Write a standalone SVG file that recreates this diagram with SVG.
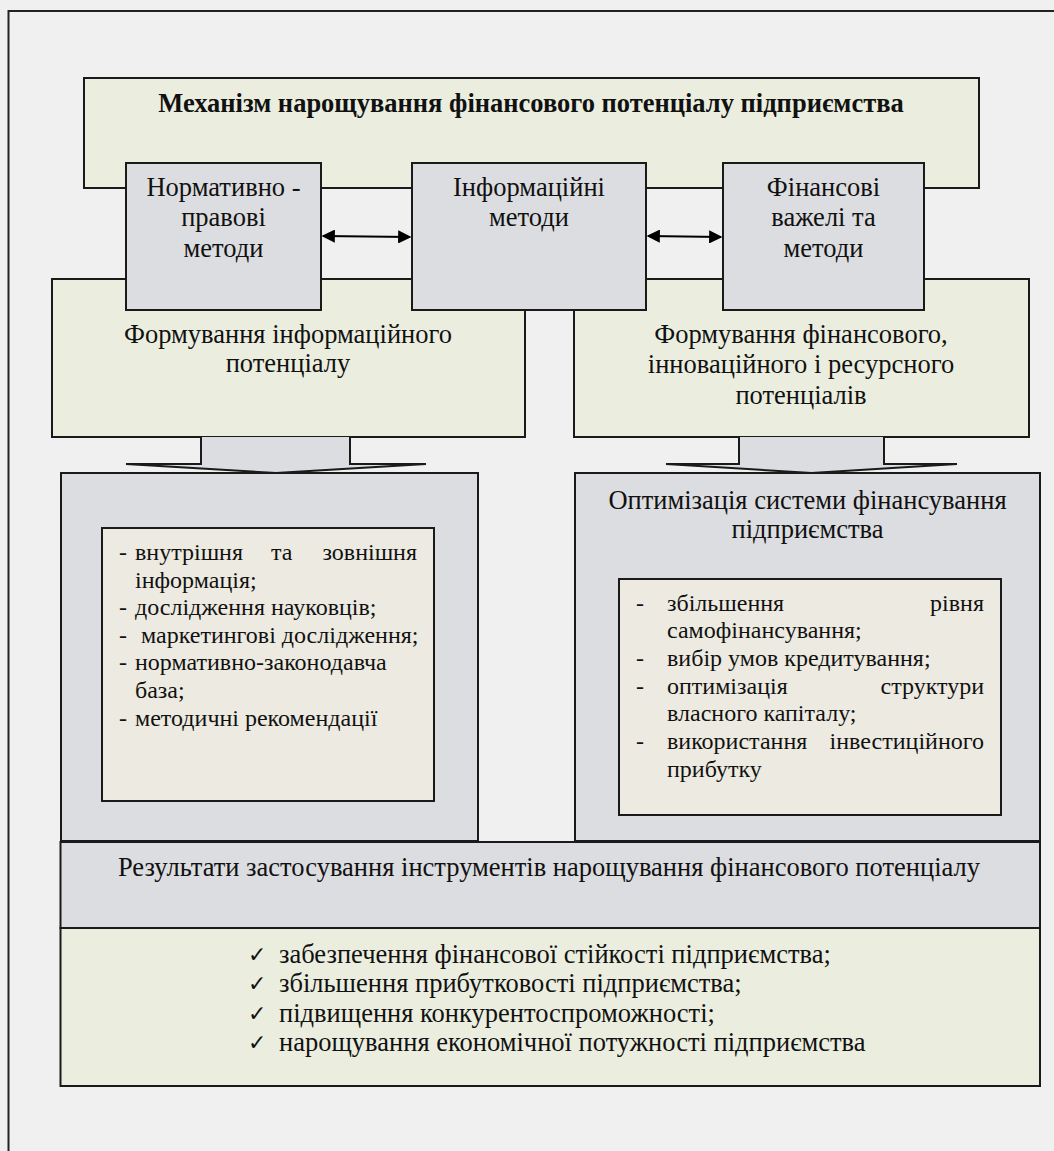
<svg xmlns="http://www.w3.org/2000/svg" width="1054" height="1151" viewBox="0 0 1054 1151">
<style>
.t{font-family:'Liberation Serif','DejaVu Serif','Times New Roman',Times,serif;font-size:26.5px;fill:#111}
.s{font-size:24px}
.c{text-anchor:middle}
.e{text-anchor:end}
.b{font-weight:bold}
.green{fill:#EBEEDF;stroke:#1a1a1a;stroke-width:2}
.gray{fill:#DCDDE0;stroke:#1a1a1a;stroke-width:2}
.beige{fill:#EDEBE1;stroke:#1a1a1a;stroke-width:2}
.chk{font-family:'DejaVu Sans',sans-serif;font-size:22px}
</style>
<defs>
<marker id="ah" viewBox="0 0 10 10" refX="9" refY="5" markerWidth="6" markerHeight="6" orient="auto-start-reverse">
<path d="M0,0 L10,5 L0,10 z" fill="#000"/>
</marker>
</defs>
<rect x="0" y="0" width="1054" height="1151" fill="#F0F0F0"/>
<rect x="8.5" y="11" width="1100" height="1200" fill="none" stroke="#222" stroke-width="2"/>

<g id="mechanism">
<rect class="green" x="84" y="78" width="895" height="110"/>
<text class="t c b" x="531" y="112">Механізм нарощування фінансового потенціалу підприємства</text>
</g>

<g id="form-info">
<rect class="green" x="52" y="279" width="473" height="158"/>
<text class="t c" x="288" y="343">Формування інформаційного</text>
<text class="t c" x="288" y="372">потенціалу</text>
</g>

<g id="form-fin">
<rect class="green" x="574" y="279" width="455" height="158"/>
<text class="t c" x="801" y="343">Формування фінансового,</text>
<text class="t c" x="801" y="373">інноваційного і ресурсного</text>
<text class="t c" x="801" y="404">потенціалів</text>
</g>

<g id="norm-methods">
<rect class="gray" x="126" y="163" width="195" height="147"/>
<text class="t c" x="223.5" y="196">Нормативно -</text>
<text class="t c" x="223.5" y="226">правові</text>
<text class="t c" x="223.5" y="257">методи</text>
</g>

<g id="info-methods">
<rect class="gray" x="412" y="163" width="234" height="147"/>
<text class="t c" x="529" y="196">Інформаційні</text>
<text class="t c" x="529" y="226">методи</text>
</g>

<g id="fin-methods">
<rect class="gray" x="723" y="163" width="201" height="147"/>
<text class="t c" x="823.5" y="196">Фінансові</text>
<text class="t c" x="823.5" y="226">важелі та</text>
<text class="t c" x="823.5" y="257">методи</text>
</g>

<g id="info-sources">
<rect class="gray" x="61" y="473" width="417" height="368"/>
<rect class="beige" x="102" y="528" width="332" height="273"/>
<text class="t s" x="119" y="560">-</text>
<text class="t s" x="135" y="560">внутрішня</text>
<text class="t s" x="271" y="560">та</text>
<text class="t s e" x="417" y="560">зовнішня</text>
<text class="t s" x="135" y="588">інформація;</text>
<text class="t s" x="119" y="615">-</text>
<text class="t s" x="135" y="615">дослідження науковців;</text>
<text class="t s" x="119" y="643">-</text>
<text class="t s" x="141" y="643">маркетингові дослідження;</text>
<text class="t s" x="119" y="670">-</text>
<text class="t s" x="135" y="670">нормативно-законодавча</text>
<text class="t s" x="135" y="698">база;</text>
<text class="t s" x="119" y="726">-</text>
<text class="t s" x="135" y="726">методичні рекомендації</text>
</g>

<g id="optimization">
<rect class="gray" x="575" y="473" width="465" height="368"/>
<text class="t c" x="807.5" y="509">Оптимізація системи фінансування</text>
<text class="t c" x="807.5" y="538">підприємства</text>
<rect class="beige" x="619" y="579" width="382" height="236"/>
<text class="t s" x="636" y="611">-</text>
<text class="t s" x="667" y="611">збільшення</text>
<text class="t s e" x="984" y="611">рівня</text>
<text class="t s" x="667" y="638">самофінансування;</text>
<text class="t s" x="636" y="666">-</text>
<text class="t s" x="667" y="666">вибір умов кредитування;</text>
<text class="t s" x="636" y="694">-</text>
<text class="t s" x="667" y="694">оптимізація</text>
<text class="t s e" x="984" y="694">структури</text>
<text class="t s" x="667" y="721">власного капіталу;</text>
<text class="t s" x="636" y="749">-</text>
<text class="t s" x="667" y="749">використання</text>
<text class="t s e" x="984" y="749">інвестиційного</text>
<text class="t s" x="667" y="777">прибутку</text>
</g>

<g id="results">
<rect class="gray" x="60.5" y="842" width="979.5" height="86"/>
<text class="t c" x="549" y="876">Результати застосування інструментів нарощування фінансового потенціалу</text>
</g>

<g id="outcomes">
<rect class="green" x="60.5" y="928" width="979.5" height="158"/>
<text class="t chk" x="248" y="962">✓</text>
<text class="t" x="279" y="963">забезпечення фінансової стійкості підприємства;</text>
<text class="t chk" x="248" y="991">✓</text>
<text class="t" x="279" y="992">збільшення прибутковості підприємства;</text>
<text class="t chk" x="248" y="1021">✓</text>
<text class="t" x="279" y="1022">підвищення конкурентоспроможності;</text>
<text class="t chk" x="248" y="1050">✓</text>
<text class="t" x="279" y="1051">нарощування економічної потужності підприємства</text>
</g>

<g id="connectors">
<line x1="323" y1="236" x2="410" y2="237" stroke="#000" stroke-width="2.2" marker-start="url(#ah)" marker-end="url(#ah)"/>
<line x1="648" y1="236" x2="721" y2="237" stroke="#000" stroke-width="2.2" marker-start="url(#ah)" marker-end="url(#ah)"/>
<path d="M201,437 L201,464 L126,464 L276,473 L426,464 L350,464 L350,437" fill="#DCDDE0" stroke="#1a1a1a" stroke-width="2"/>
<path d="M739,437 L739,464 L666,464 L811.5,473 L957,464 L884,464 L884,437" fill="#DCDDE0" stroke="#1a1a1a" stroke-width="2"/>
</g>
</svg>
